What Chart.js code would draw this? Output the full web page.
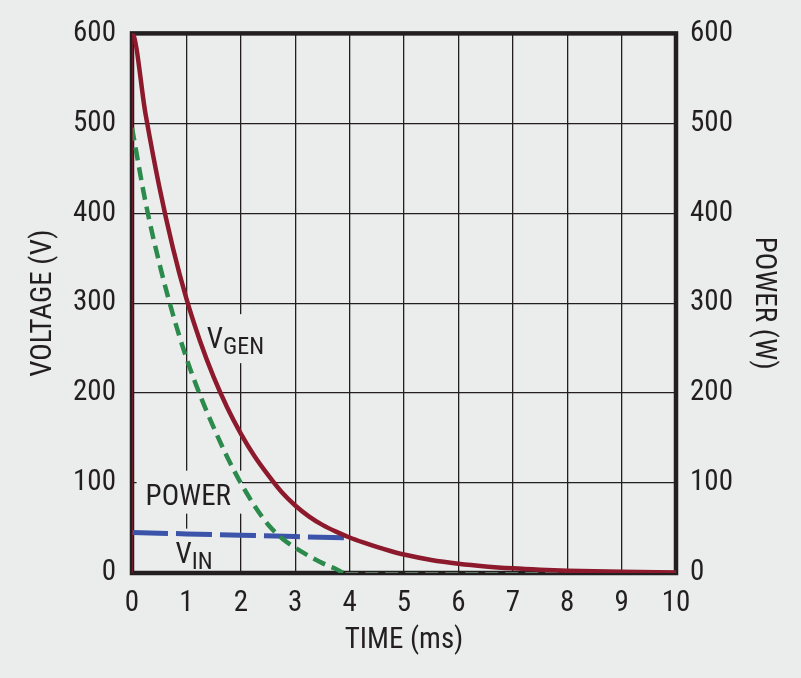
<!DOCTYPE html>
<html>
<head>
<meta charset="utf-8">
<script src="https://cdn.jsdelivr.net/npm/chart.js@4"></script>
<style>
  html, body { margin: 0; padding: 0; background: #ebedec; }
  #wrap { width: 801px; height: 678px; position: relative; }
</style>
</head>
<body>
<div id="wrap"><canvas id="c"></canvas></div>
<script>
// ---- data ----
const xTicks = [0, 1, 2, 3, 4, 5, 6, 7, 8, 9, 10];
const yTicks = [0, 100, 200, 300, 400, 500, 600];

const vgenTime   = [0, 0, 0.25, 0.5, 0.75, 1.0, 1.25, 1.5, 1.75, 2.0, 2.25, 2.5, 2.75, 3.0, 3.25, 3.5, 3.75, 4.0, 4.25, 4.5, 4.75, 5.0, 5.5, 6.0, 6.5, 7.0, 7.5, 8.0, 9.0, 10.0];
const vgenValues = [0, 600, 510, 430, 362, 305, 258, 218, 184, 155, 130, 109, 90, 75, 63, 53.5, 46, 39.5, 34, 29, 24.5, 20.5, 14.5, 10.3, 7.3, 5.2, 3.7, 2.6, 1.3, 0.6];

const powerTime   = [0, 0.25, 0.5, 0.75, 1.0, 1.25, 1.5, 1.75, 2.0, 2.25, 2.5, 2.75, 3.0, 3.25, 3.5, 3.75, 3.92, 5, 6, 7, 8, 9, 10];
const powerValues = [495, 412, 345, 288, 239, 198, 162, 129, 100, 75, 54, 39, 28, 19, 11, 4.5, 0, 0, 0, 0, 0, 0, 0];

const vinTime   = [0, 1, 2, 3, 3.95];
const vinValues = [45, 43.5, 42, 40.5, 39];

const axisTitles = { x: 'TIME (ms)', y: 'VOLTAGE (V)', y2: 'POWER (W)' };
const seriesLabels = ['VGEN', 'POWER', 'VIN'];

// ---- styles ----
const INK = '#231f20';
const BG = '#ebedec';
const RED = '#8c1a2c';
const GREEN = '#2b8a4c';
const BLUE = '#3b53a8';
const FONT = "'Liberation Sans Narrow', 'Arial Narrow', 'Roboto Condensed', 'DejaVu Sans Condensed', sans-serif";

const toPts = (xs, ys) => xs.map((x, i) => ({ x: x, y: ys[i] }));

// in-plot labels anchored in data coordinates
const inLabels = [
  { main: 'V', sub: 'GEN', t: 1.376, v: 250 },
  { main: 'POWER', sub: '', t: 0.25, v: 76 },
  { main: 'V', sub: 'IN', t: 0.80, v: 11.5 }
];

const labelPlugin = {
  id: 'inLabels',
  beforeDatasetsDraw(chart) {
    const { ctx, chartArea, scales } = chart;
    ctx.save();
    inLabels.forEach(l => {
      const x = scales.x.getPixelForValue(l.t);
      const y = scales.y.getPixelForValue(l.v);
      ctx.font = '29px ' + FONT;
      const wMain = ctx.measureText(l.main).width;
      ctx.font = '24px ' + FONT;
      const wSub = l.sub ? ctx.measureText(l.sub).width : 0;
      const subDrop = 6;
      const left = x - 9, right = x + wMain + wSub + 11;
      const top = y - 21 - 13, bottom = Math.min(y + (l.sub ? subDrop : 0) + 9, chartArea.bottom);
      ctx.fillStyle = BG;
      ctx.fillRect(left, top, right - left, bottom - top);
      ctx.fillStyle = INK;
      ctx.textBaseline = 'alphabetic';
      ctx.textAlign = 'left';
      ctx.font = '29px ' + FONT;
      ctx.fillText(l.main, x, y);
      if (l.sub) {
        ctx.font = '24px ' + FONT;
        ctx.fillText(l.sub, x + wMain, y + subDrop);
      }
    });
    // frame
    ctx.strokeStyle = INK;
    ctx.lineWidth = 4.5;
    ctx.strokeRect(chartArea.left, chartArea.top, chartArea.right - chartArea.left, chartArea.bottom - chartArea.top);
    ctx.restore();
  }
};

const tickFont = { family: FONT, size: 29 };
const titleFont = { family: FONT, size: 29 };

new Chart(document.getElementById('c'), {
  type: 'line',
  data: {
    datasets: [
      {
        label: seriesLabels[0],
        data: toPts(vgenTime, vgenValues),
        borderColor: RED,
        borderWidth: 4.5,
        pointRadius: 0,
        cubicInterpolationMode: 'monotone',
        segment: {
          borderWidth: c => (c.p0.parsed.x === c.p1.parsed.x ? 1.5 : 4.5)
        },
        order: 1
      },
      {
        label: seriesLabels[1],
        data: toPts(powerTime, powerValues),
        yAxisID: 'y2',
        borderColor: GREEN,
        borderWidth: 4.5,
        borderDash: [13, 7],
        pointRadius: 0,
        cubicInterpolationMode: 'monotone',
        segment: {
          borderColor: c => (c.p0.parsed.y === 0 && c.p1.parsed.y === 0 ? 'rgba(120,160,130,0.7)' : GREEN),
          borderWidth: c => (c.p0.parsed.y === 0 && c.p1.parsed.y === 0 ? 2 : 4.5)
        },
        order: 2
      },
      {
        label: seriesLabels[2],
        data: toPts(vinTime, vinValues),
        borderColor: BLUE,
        borderWidth: 5,
        borderDash: [36, 8],
        pointRadius: 0,
        order: 3
      }
    ]
  },
  options: {
    responsive: true,
    maintainAspectRatio: false,
    animation: false,
    layout: { padding: { top: 30, left: 0, right: 0, bottom: 0 } },
    plugins: { legend: { display: false }, tooltip: { enabled: false } },
    scales: {
      x: {
        type: 'linear',
        min: xTicks[0], max: xTicks[xTicks.length - 1],
        afterBuildTicks: s => { s.ticks = xTicks.map(v => ({ value: v })); },
        afterFit: s => { s.height = 105; },
        grid: { color: INK, lineWidth: 1.3, drawTicks: false },
        border: { display: false },
        ticks: { color: INK, font: tickFont, padding: 13, maxRotation: 0, autoSkip: false },
        title: { display: true, text: axisTitles.x, color: INK, font: titleFont, padding: { top: 0, bottom: 20 } }
      },
      y: {
        position: 'left',
        min: yTicks[0], max: yTicks[yTicks.length - 1],
        afterBuildTicks: s => { s.ticks = yTicks.map(v => ({ value: v })); },
        afterFit: s => { s.width = 132; },
        grid: { color: INK, lineWidth: 1.3, drawTicks: false },
        border: { display: false },
        ticks: { color: INK, font: tickFont, padding: 16, autoSkip: false },
        title: { display: true, text: axisTitles.y, color: INK, font: titleFont, padding: { top: 26, bottom: 0 } }
      },
      y2: {
        position: 'right',
        min: yTicks[0], max: yTicks[yTicks.length - 1],
        afterBuildTicks: s => { s.ticks = yTicks.map(v => ({ value: v })); },
        afterFit: s => { s.width = 125; },
        grid: { display: false, drawTicks: false },
        border: { display: false },
        ticks: { color: INK, font: tickFont, padding: 14, autoSkip: false },
        title: { display: true, text: axisTitles.y2, color: INK, font: titleFont, padding: { top: 20, bottom: 0 } }
      }
    }
  },
  plugins: [labelPlugin]
});
</script>
</body>
</html>
